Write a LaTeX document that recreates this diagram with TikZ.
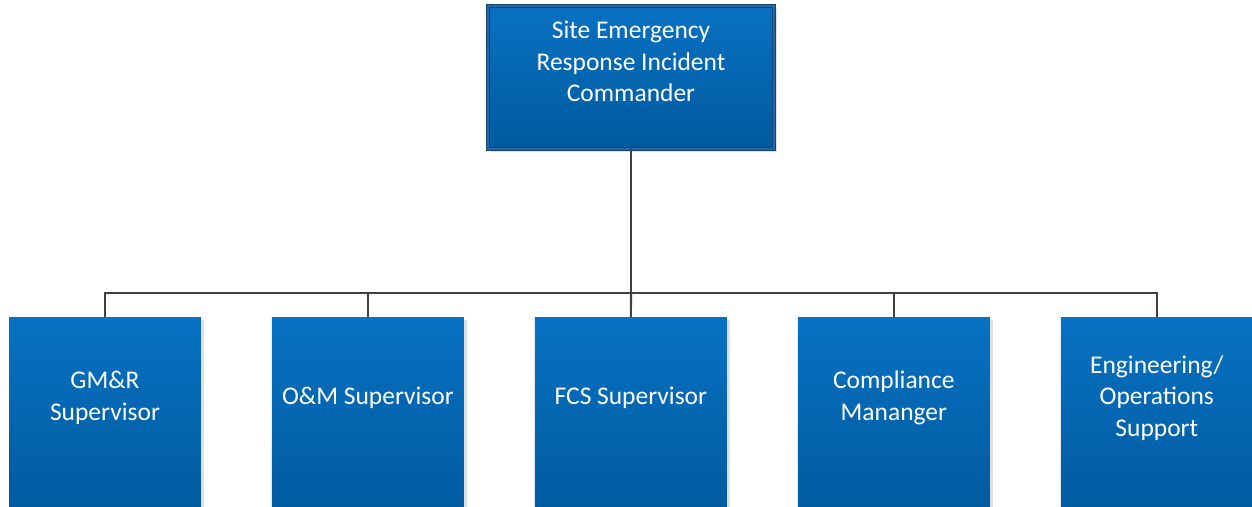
\documentclass[tikz,border=0pt]{standalone}
\usepackage{fontspec}
\setmainfont{Carlito}
\usetikzlibrary{positioning,shadows}

\definecolor{boxtop}{RGB}{8,113,194}
\definecolor{boxbottom}{RGB}{0,90,158}
\definecolor{boxedge}{RGB}{22,66,112}
\definecolor{boxgap}{RGB}{36,104,172}
\definecolor{linkgray}{RGB}{64,64,64}

\begin{document}
\begin{tikzpicture}[x=0.02cm,y=-0.02cm]
  \tikzstyle{unit}=[rectangle, inner sep=0pt, outer sep=0pt, top color=boxtop, bottom color=boxbottom,
    drop shadow={shadow xshift=0.6mm, shadow yshift=-0.6mm, opacity=0.25}]
  \tikzstyle{caption}=[text=white, align=center, inner sep=0pt,
    font=\fontsize{14.5}{17.9}\selectfont]
  \tikzstyle{link}=[draw=linkgray, line width=1.2pt]
  \useasboundingbox (0,0) rectangle (1252,507);

  \node (cmd) [unit, draw=boxedge, line width=0.7pt, double=boxgap, double distance=1.4pt,
    minimum width=5.72cm, minimum height=2.86cm] at (631,77.5) {};
  \node (cmdtext) [caption] at ([yshift=-1.11cm]cmd.north) {Site Emergency\\Response Incident\\Commander};

  \node (gmr) [unit, minimum width=3.84cm, minimum height=4cm, anchor=north] at (105,317) {};
  \node (om) [unit, minimum width=3.84cm, minimum height=4cm, right=1.42cm of gmr] {};
  \node (fcs) [unit, minimum width=3.84cm, minimum height=4cm, right=1.42cm of om] {};
  \node (comp) [unit, minimum width=3.84cm, minimum height=4cm, right=1.42cm of fcs] {};
  \node (eng) [unit, minimum width=3.84cm, minimum height=4cm, right=1.42cm of comp] {};

  \node (gmrtext) [caption] at ([yshift=-1.62cm]gmr.north) {GM\&R\\Supervisor};
  \node (omtext) [caption] at ([yshift=-1.62cm]om.north) {O\&M Supervisor};
  \node (fcstext) [caption] at ([yshift=-1.62cm]fcs.north) {FCS Supervisor};
  \node (comptext) [caption] at ([yshift=-1.62cm]comp.north) {Compliance\\Mananger};
  \node (engtext) [caption] at ([yshift=-1.62cm]eng.north) {Engineering/\\Operations\\Support};

  \coordinate (bus) at (631,293);

  \draw [link] (cmd.south) -- (bus);
  \draw [link] (bus) -| (gmr.north);
  \draw [link] (bus) -| (om.north);
  \draw [link] (bus) -- (fcs.north);
  \draw [link] (bus) -| (comp.north);
  \draw [link] (bus) -| (eng.north);

\end{tikzpicture}
\end{document}
